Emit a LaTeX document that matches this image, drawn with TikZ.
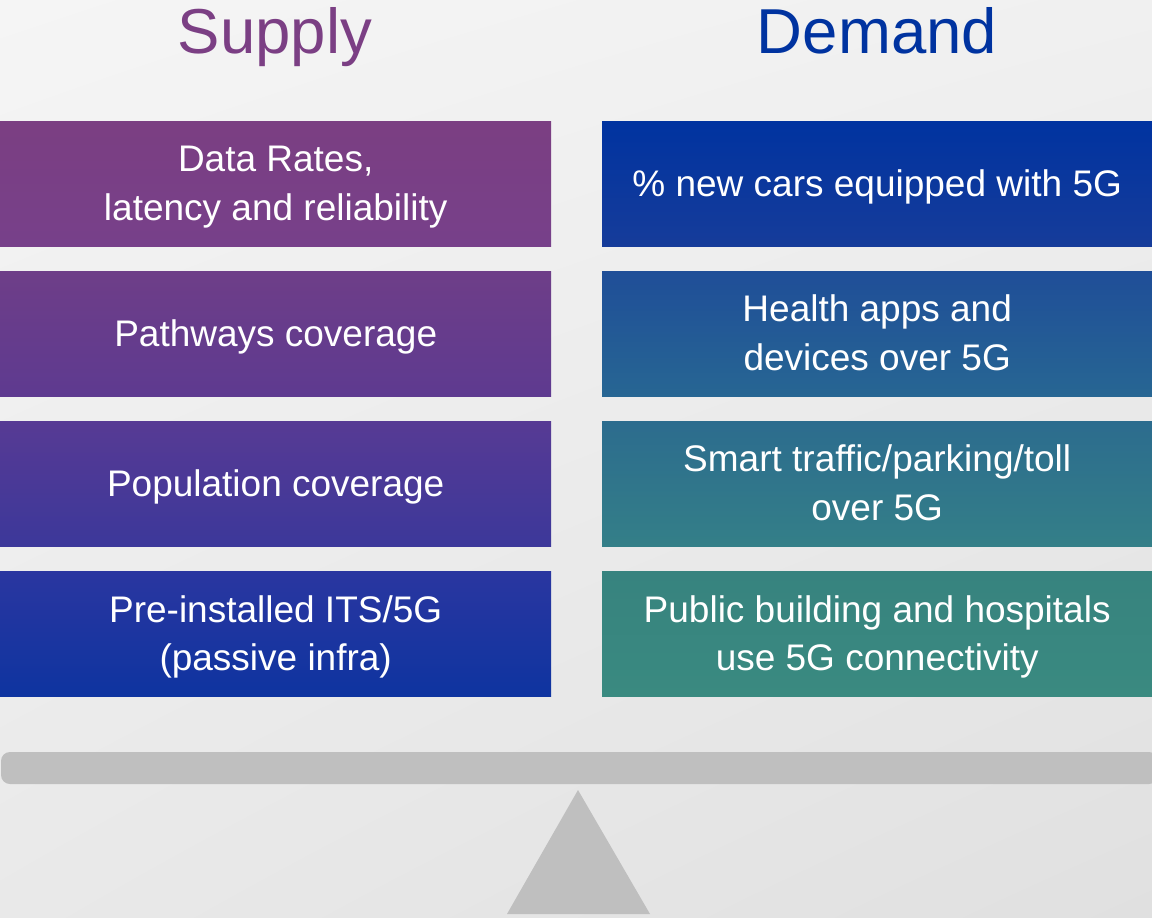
\documentclass[tikz,border=0pt]{standalone}
\usepackage{fontspec}
\setmainfont{Liberation Sans}
\usetikzlibrary{shadings}
% fixed line box so every card line sits at the same height
\newcommand\cardstrut{\rule[-9pt]{0pt}{43pt}}
\begin{document}
\begin{tikzpicture}[x=1pt,y=-1pt,
  title/.style={anchor=base,font=\fontsize{63.5}{70}\selectfont,inner sep=0pt},
  card/.style={rectangle,anchor=north west,minimum width=551pt,minimum height=125pt,
    inner sep=0pt,text=white,align=center,font=\fontsize{37}{48.5}\selectfont},
  scalepart/.style={fill=scalegray,draw=none}]
% palette
\definecolor{supplyc}{HTML}{7B3F84}
\definecolor{demandc}{HTML}{0033A0}
\definecolor{scalegray}{HTML}{BFBFBF}
\definecolor{la}{HTML}{7B3F82}\definecolor{lb}{HTML}{77408A}
\definecolor{lc}{HTML}{6E3E88}\definecolor{ld}{HTML}{5E3A90}
\definecolor{le}{HTML}{573A94}\definecolor{lf}{HTML}{3C389A}
\definecolor{lg}{HTML}{2A36A0}\definecolor{lh}{HTML}{0E34A0}
\definecolor{ra}{HTML}{0033A0}\definecolor{rb}{HTML}{163C9A}
\definecolor{rc}{HTML}{1F4E98}\definecolor{rd}{HTML}{276693}
\definecolor{re}{HTML}{2C6C8E}\definecolor{rf}{HTML}{347F88}
\definecolor{rg}{HTML}{37837F}\definecolor{rh}{HTML}{3A8A80}
\definecolor{bgul}{HTML}{F5F5F5}\definecolor{bgur}{HTML}{F0F0F0}
\definecolor{bgll}{HTML}{E9E9E9}\definecolor{bglr}{HTML}{E0E0E0}

% background
\useasboundingbox (0,0) rectangle (1152,918);
\shade[upper left=bgul,upper right=bgur,lower left=bgll,lower right=bglr]
  (0,0) rectangle (1152,918);

% headings
\node[title,text=supplyc] (supply) at (275,53) {Supply};
\node[title,text=demandc] (demand) at (877,53) {Demand};

% supply column
\node[card,top color=la,bottom color=lb] (s1) at (0,121) {\cardstrut Data Rates,\\\cardstrut latency and reliability};
\node[card,top color=lc,bottom color=ld] (s2) at (0,271) {\cardstrut Pathways coverage};
\node[card,top color=le,bottom color=lf] (s3) at (0,421) {\cardstrut Population coverage};
\node[card,top color=lg,bottom color=lh] (s4) at (0,571.5) {\cardstrut Pre-installed ITS/5G\\\cardstrut (passive infra)};

% demand column
\node[card,minimum width=550pt,top color=ra,bottom color=rb] (d1) at (602,121) {\cardstrut\% new cars equipped with 5G};
\node[card,minimum width=550pt,top color=rc,bottom color=rd] (d2) at (602,271) {\cardstrut Health apps and\\\cardstrut devices over 5G};
\node[card,minimum width=550pt,top color=re,bottom color=rf] (d3) at (602,421) {\cardstrut Smart traffic/parking/toll\\\cardstrut over 5G};
\node[card,minimum width=550pt,top color=rg,bottom color=rh] (d4) at (602,571.5) {\cardstrut Public building and hospitals\\\cardstrut use 5G connectivity};

% balance beam and pivot
\fill[scalepart,rounded corners=9pt] (1,752) rectangle (1158,784);
\fill[scalepart] (578,790) -- (650,914) -- (507,914) -- cycle;
\end{tikzpicture}
\end{document}
